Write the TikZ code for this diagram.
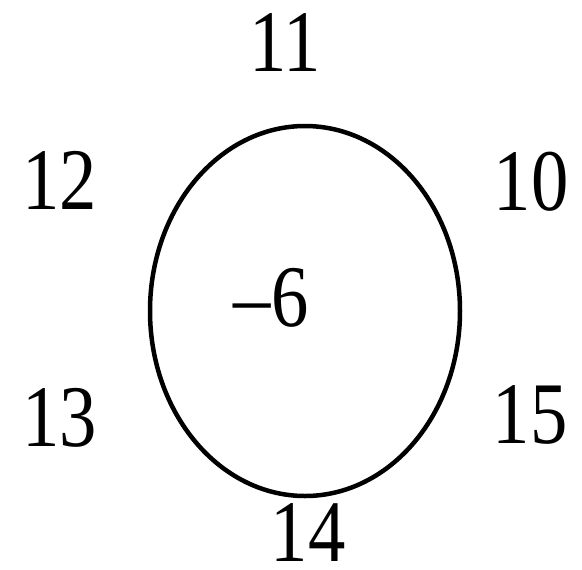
\documentclass[tikz,border=0pt]{standalone}
\usepackage{fontspec}
\setmainfont{Liberation Serif}
\usepackage{tikz}
\usetikzlibrary{positioning}

\tikzset{
  num/.style={font=\fontsize{50}{50}\selectfont, inner sep=0pt, xscale=0.85},
  ring/.style={line width=0.09cm, draw=black}
}

\begin{document}
\begin{tikzpicture}[x=0.02cm, y=-0.02cm]
  \useasboundingbox (0,0) rectangle (582,569);
  % central ring
  \coordinate (cell) at (305,311);
  \draw[ring] (cell) ellipse [x radius=155, y radius=185];
  \node[num] (v) at (271,298) {–6};
  % neighbours
  \node[num] (n11) at (285,42) {11};
  \node[num] (n12) at (60,180) {12};
  \node[num] (n10) at (531,182) {10};
  \node[num] (n13) at (60,418) {13};
  \node[num] (n15) at (530,415) {15};
  \node[num] (n14) at (308,532) {14};
\end{tikzpicture}
\end{document}
